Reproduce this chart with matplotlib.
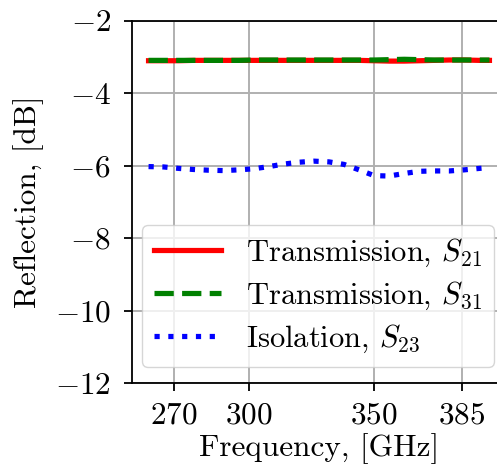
import matplotlib

matplotlib.use("Agg")
import matplotlib.pyplot as plt

plt.rcParams.update({
    "font.family": "serif",
    "font.serif": ["cmr10"],
    "mathtext.fontset": "cm",
    "axes.formatter.use_mathtext": True,
    "axes.unicode_minus": True,
    "font.size": 22.5,
    "axes.linewidth": 1.3,
    "xtick.major.width": 1.3,
    "ytick.major.width": 1.3,
    "xtick.major.size": 5.8,
    "ytick.major.size": 5.8,
    "xtick.major.pad": 7.5,
    "ytick.major.pad": 9,
})

# measured S-parameters across the band, dB
freq = [260, 266, 272, 278, 284, 290, 296, 302, 308, 314, 320, 326, 332, 338,
        344, 350, 356, 362, 368, 374, 380, 386, 392, 396]
s21 = [-3.11, -3.11, -3.11, -3.10, -3.10, -3.10, -3.10, -3.10, -3.10, -3.10,
       -3.10, -3.10, -3.10, -3.10, -3.10, -3.11, -3.12, -3.12, -3.11, -3.10,
       -3.09, -3.09, -3.10, -3.10]
s31 = [-3.10, -3.10, -3.10, -3.10, -3.10, -3.10, -3.10, -3.09, -3.09, -3.09,
       -3.09, -3.09, -3.09, -3.09, -3.09, -3.09, -3.08, -3.07, -3.08, -3.09,
       -3.09, -3.09, -3.09, -3.09]
s23 = [-6.03, -6.04, -6.08, -6.11, -6.13, -6.14, -6.12, -6.09, -6.03, -5.96,
       -5.91, -5.88, -5.90, -5.97, -6.12, -6.28, -6.29, -6.22, -6.16, -6.15,
       -6.15, -6.12, -6.08, -6.06]

xticks = [270, 300, 350, 385]
yticks = [-12, -10, -8, -6, -4, -2]

fig = plt.figure(figsize=(4.97, 4.70), dpi=100)
# axes runs past the right edge of the canvas
ax = fig.add_axes([131.5 / 497, 87 / 470, 375 / 497, 362.5 / 470])
ax.plot(freq, s21, color="red", lw=3.75, label="Transmission, $S_{21}$")
ax.plot(freq, s31, color="green", lw=3.75, ls="--",
        label="Transmission, $S_{31}$")
ax.plot(freq, s23, color="blue", lw=3.75, ls=":",
        label="Isolation, $S_{23}$")

ax.set_ylim(-12, -2)
ax.set_xticks(xticks)
ax.set_yticks(yticks)
ax.grid(True, color="#b0b0b0", lw=1.4)
ax.set_xlabel("Frequency, [GHz]", labelpad=3)
ax.set_ylabel("Reflection, [dB]", labelpad=8)
# legend pinned to the visible right edge of the canvas
ax.legend(loc="lower right", bbox_to_anchor=(494 / 497, 103 / 470),
          bbox_transform=fig.transFigure, borderaxespad=0, fontsize=22,
          handlelength=2.2, borderpad=0.4, labelspacing=0.35,
          handletextpad=0.8)

fig.savefig("out.png", dpi=100)
